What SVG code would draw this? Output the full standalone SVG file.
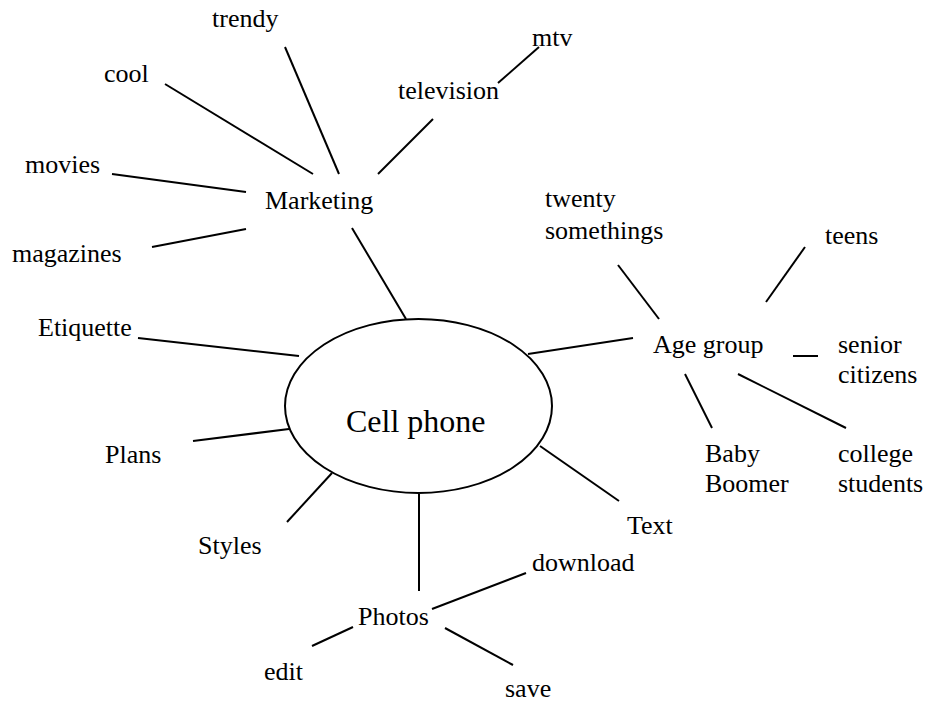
<svg xmlns="http://www.w3.org/2000/svg" width="925" height="702" viewBox="0 0 925 702">
<style>
text{font-family:"Liberation Serif","Times New Roman",serif;font-size:26px;fill:#000}
.big{font-size:32px}
line,ellipse{stroke:#000;stroke-width:2;fill:none}
</style>
<rect width="925" height="702" fill="#fff"/>
<g id="connectors">
<line x1="165" y1="84" x2="313" y2="174"/>
<line x1="285" y1="47" x2="339" y2="174"/>
<line x1="433" y1="119" x2="378" y2="174"/>
<line x1="498" y1="83" x2="539" y2="47"/>
<line x1="112" y1="174" x2="246" y2="192"/>
<line x1="152" y1="247" x2="246" y2="229"/>
<line x1="352" y1="228" x2="406" y2="319"/>
<line x1="138" y1="338" x2="299" y2="356"/>
<line x1="193" y1="441" x2="289" y2="429"/>
<line x1="287" y1="522" x2="332" y2="473"/>
<line x1="419" y1="494" x2="419" y2="591"/>
<line x1="312" y1="646" x2="353" y2="627"/>
<line x1="432" y1="609" x2="526" y2="573"/>
<line x1="445" y1="628" x2="513" y2="665"/>
<line x1="540" y1="446" x2="619" y2="501"/>
<line x1="528" y1="354" x2="633" y2="338"/>
<line x1="618" y1="265" x2="659" y2="319"/>
<line x1="805" y1="247" x2="766" y2="302"/>
<line x1="793" y1="356" x2="818" y2="356"/>
<line x1="685" y1="374" x2="712" y2="428"/>
<line x1="738" y1="374" x2="846" y2="428"/>
</g>
<g id="cellphone"><ellipse cx="418.5" cy="406" rx="133.5" ry="87"/><text class="big" x="346" y="432">Cell phone</text></g>
<g id="marketing"><text x="265" y="209">Marketing</text></g>
<g id="trendy"><text x="212" y="27">trendy</text></g>
<g id="cool"><text x="104" y="82">cool</text></g>
<g id="television"><text x="398" y="99">television</text></g>
<g id="mtv"><text x="532" y="46">mtv</text></g>
<g id="movies"><text x="25" y="173">movies</text></g>
<g id="magazines"><text x="12" y="262">magazines</text></g>
<g id="etiquette"><text x="38" y="336">Etiquette</text></g>
<g id="plans"><text x="105" y="463">Plans</text></g>
<g id="styles"><text x="198" y="554">Styles</text></g>
<g id="photos"><text x="358" y="625">Photos</text></g>
<g id="edit"><text x="264" y="680">edit</text></g>
<g id="download"><text x="532" y="571">download</text></g>
<g id="save"><text x="505" y="697">save</text></g>
<g id="text"><text x="627" y="534">Text</text></g>
<g id="agegroup"><text x="653" y="353">Age group</text></g>
<g id="twenty"><text x="545" y="207">twenty</text><text x="545" y="239">somethings</text></g>
<g id="teens"><text x="825" y="244">teens</text></g>
<g id="senior"><text x="838" y="353">senior</text><text x="838" y="383">citizens</text></g>
<g id="baby"><text x="705" y="462">Baby</text><text x="705" y="492">Boomer</text></g>
<g id="college"><text x="838" y="462">college</text><text x="838" y="492">students</text></g>
</svg>
